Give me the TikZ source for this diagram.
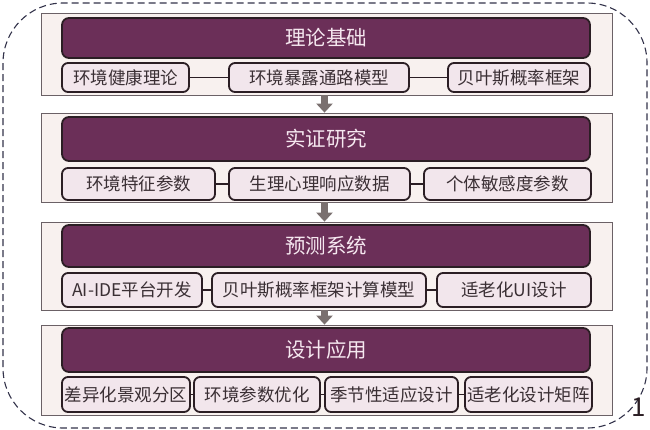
\documentclass[tikz,border=0pt]{standalone}
\usepackage{fontspec}
\newfontfamily\cjk{Noto Sans CJK SC}
\usetikzlibrary{arrows.meta}
\definecolor{titlefill}{HTML}{6B2F58}
\definecolor{titletext}{HTML}{F6E8F0}
\definecolor{panelfill}{HTML}{F8F1EF}
\definecolor{subfill}{HTML}{F2E6EC}
\definecolor{boxline}{HTML}{2B1E24}
\definecolor{subtext}{HTML}{3A2F34}
\definecolor{arrowgray}{HTML}{7A706F}
\definecolor{outerline}{HTML}{32324A}
\begin{document}
\begin{tikzpicture}[x=1pt,y=-1pt,
  panel/.style={draw=boxline!70,line width=0.8pt,fill=panelfill,minimum width=571pt,inner sep=0pt},
  title/.style={draw=boxline,line width=1.8pt,fill=titlefill,rounded corners=7pt,minimum width=528pt,inner sep=0pt,text=titletext,font=\cjk\fontsize{20.5}{24}\selectfont},
  sub/.style={draw=boxline,line width=1.8pt,fill=subfill,rounded corners=6pt,inner sep=0pt,text=subtext,font=\cjk\fontsize{17.5}{21}\selectfont},
  link/.style={boxline,line width=1.8pt},
  down/.style={arrowgray,line width=7pt,-{Triangle[width=16pt,length=9pt]}}]
\useasboundingbox (0,0) rectangle (650,429);
\draw[outerline,line width=1.1pt,dash pattern=on 7pt off 4pt,rounded corners=60pt] (3,3) rectangle (647,428);
\node[font=\cjk\fontsize{26}{30}\selectfont,text=boxline] (num) at (639,407) {1};

\node[panel,minimum height=82pt] (p1) at (326.5,54) {};
\node[panel,minimum height=89pt] (p2) at (326.5,157.5) {};
\node[panel,minimum height=88pt] (p3) at (326.5,266) {};
\node[panel,minimum height=90pt] (p4) at (326.5,370) {};

\node[title,minimum height=40pt] (t1) at (326,38) {理论基础};
\node[title,minimum height=44pt] (t2) at (326,139) {实证研究};
\node[title,minimum height=42pt] (t3) at (326,246) {预测系统};
\node[title,minimum height=44pt] (t4) at (326,350) {设计应用};

\node[sub,minimum width=127pt,minimum height=29pt] (a1) at (125.5,77.5) {环境健康理论};
\node[sub,minimum width=180pt,minimum height=29pt] (b1) at (319,77.5) {环境暴露通路模型};
\node[sub,minimum width=142pt,minimum height=29pt] (c1) at (519,77.5) {贝叶斯概率框架};
\draw[link] (a1) -- (b1);
\draw[link] (b1) -- (c1);

\node[sub,minimum width=153pt,minimum height=32pt] (a2) at (138.5,184) {环境特征参数};
\node[sub,minimum width=181pt,minimum height=32pt] (b2) at (319.5,184) {生理心理响应数据};
\node[sub,minimum width=167pt,minimum height=32pt] (c2) at (507.5,184) {个体敏感度参数};
\draw[link] (a2) -- (b2);
\draw[link] (b2) -- (c2);

\node[sub,minimum width=140pt,minimum height=34pt] (a3) at (132,290) {AI-IDE平台开发};
\node[sub,minimum width=214pt,minimum height=34pt] (b3) at (319,290) {贝叶斯概率框架计算模型};
\node[sub,minimum width=154pt,minimum height=34pt] (c3) at (514,290) {适老化UI设计};
\draw[link] (a3) -- (b3);
\draw[link] (b3) -- (c3);

\node[sub,minimum width=128pt,minimum height=35pt] (a4) at (126,394.5) {差异化景观分区};
\node[sub,minimum width=126pt,minimum height=35pt] (b4) at (257,394.5) {环境参数优化};
\node[sub,minimum width=133pt,minimum height=35pt] (c4) at (391.5,394.5) {季节性适应设计};
\node[sub,minimum width=127pt,minimum height=35pt] (d4) at (528.5,394.5) {适老化设计矩阵};
\draw[link] (a4) -- (b4);
\draw[link] (b4) -- (c4);
\draw[link] (c4) -- (d4);

\draw[down] ([xshift=-2pt]p1.south) -- ([xshift=-2pt]p2.north);
\draw[down] ([xshift=-2pt]p2.south) -- ([xshift=-2pt]p3.north);
\draw[down] ([xshift=-2pt]p3.south) -- ([xshift=-2pt]p4.north);
\end{tikzpicture}
\end{document}
